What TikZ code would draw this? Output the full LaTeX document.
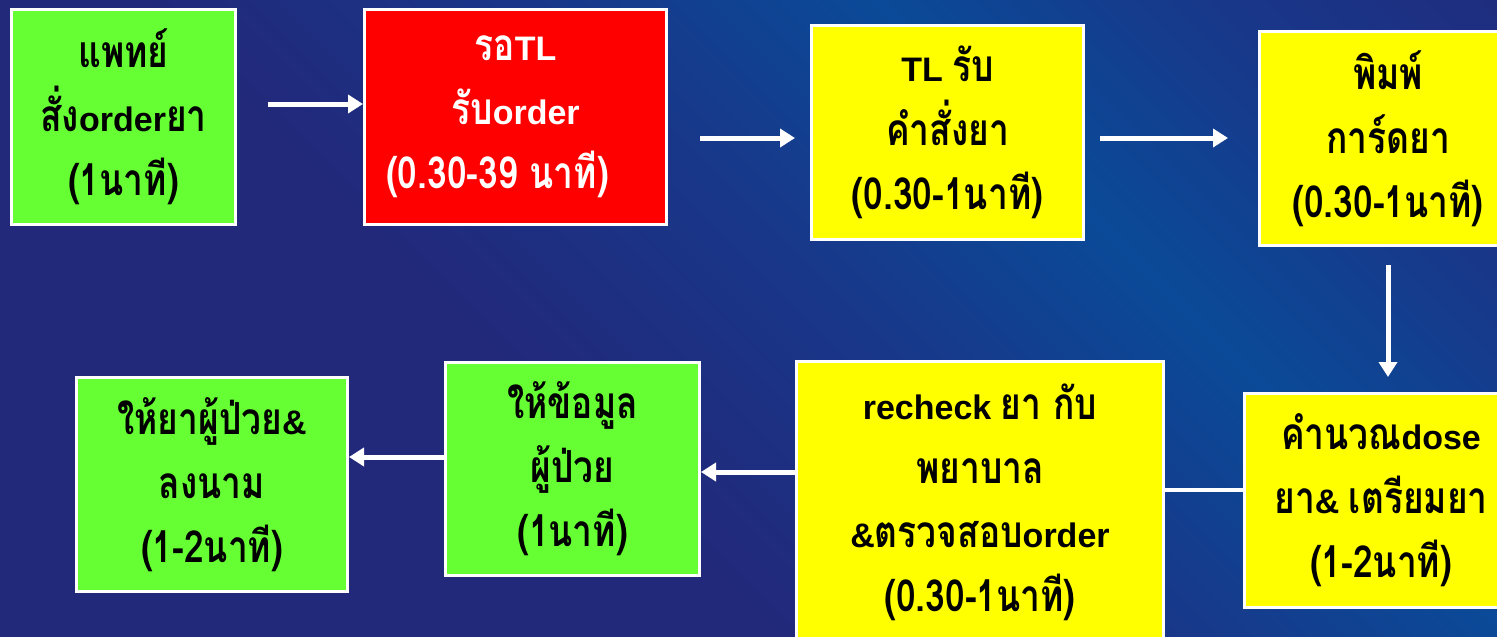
\documentclass[tikz,border=0pt]{standalone}
\usepackage{fontspec}
\setmainfont{Liberation Sans}
\newfontfamily\thai[Script=Thai,FakeStretch=0.8,Scale=1.3]{Loma}
\usetikzlibrary{arrows.meta}
\definecolor{bgdark}{RGB}{34,40,122}
\definecolor{bgmid}{RGB}{24,56,138}
\definecolor{bglight}{RGB}{10,74,152}
\definecolor{boxgreen}{RGB}{102,255,51}
\definecolor{boxyellow}{RGB}{255,255,0}
\definecolor{boxred}{RGB}{255,0,0}
\pgfdeclarehorizontalshading{bgband}{100bp}{color(0bp)=(bgdark); color(38bp)=(bgdark); color(46bp)=(bgmid); color(52bp)=(bglight); color(58bp)=(bgmid); color(66bp)=(bgdark); color(100bp)=(bgdark)}
\newcommand\thx[1]{{\thai #1}}
\begin{document}
\begin{tikzpicture}[x=1pt,y=-1pt,
  box/.style={draw=white, line width=3pt, inner sep=0pt, align=center,
    font=\bfseries\fontsize{34}{64}\selectfont, text=black},
  arr/.style={draw=white, line width=5pt, -{Triangle[length=15pt,width=18pt]}},
  link/.style={draw=white, line width=4pt}]
\useasboundingbox (0,0) rectangle (1497,637);
\begin{scope}
\clip (0,0) rectangle (1497,637);
\shade[shading=bgband, shading angle=45] (-100,-370) rectangle (2300,1030);
\end{scope}
% top row
\node[box, fill=boxgreen, minimum width=224pt, minimum height=215pt] (g1) at (123.5,117)
  {\thx{แพทย์}\\\thx{สั่ง}order\thx{ยา}\\\thx{(1นาที)}};
\node[box, fill=boxred, text=white, minimum width=302pt, minimum height=215pt] (r1) at (515.5,117)
  {\thx{รอ}TL\\\thx{รับ}order\\\thx{(0.30-39 นาที)}\kern36pt};
\node[box, fill=boxyellow, minimum width=272pt, minimum height=214pt] (y1) at (947.5,132.5)
  {TL \thx{รับ}\\\thx{คำสั่งยา}\\\thx{(0.30-1นาที)}};
\node[box, fill=boxyellow, minimum width=257pt, minimum height=214pt] (y2) at (1388,138.5)
  {\thx{พิมพ์}\\\thx{การ์ดยา}\\\thx{(0.30-1นาที)}};
% bottom row
\node[box, fill=boxyellow, minimum width=273pt, minimum height=214pt] (y3) at (1381,500.5)
  {\thx{คำนวณ}dose\\\thx{ยา}\& \thx{เตรียมยา}\\\thx{(1-2นาที)}};
\node[box, fill=boxyellow, minimum width=367pt, minimum height=281pt] (rc) at (980,502)
  {recheck \thx{ยา กับ}\\\thx{พยาบาล}\\\&\thx{ตรวจสอบ}order\\\thx{(0.30-1นาที)}};
\node[box, fill=boxgreen, minimum width=254pt, minimum height=213pt] (g2) at (572.5,469)
  {\thx{ให้ข้อมูล}\\\thx{ผู้ป่วย}\\\thx{(1นาที)}};
\node[box, fill=boxgreen, minimum width=271pt, minimum height=214pt] (g3) at (212,484.5)
  {\thx{ให้ยาผู้ป่วย}\&\\\thx{ลงนาม}\\\thx{(1-2นาที)}};
% connectors
\draw[arr] ([xshift=31pt]g1.east |- 0,104) -- (r1.west |- 0,104);
\draw[arr] ([xshift=32pt]r1.east |- 0,138) -- ([xshift=-15pt]y1.west |- 0,138);
\draw[arr] ([xshift=15pt]y1.east |- 0,138) -- ([xshift=-30pt]y2.west |- 0,138);
\draw[arr] ([yshift=-18pt]y2.south) -- ([yshift=15pt]y3.north -| y2.south);
\draw[link] (y3.west |- 0,490) -- (rc.east |- 0,490);
\draw[arr] (rc.west |- 0,472) -- (g2.east |- 0,472);
\draw[arr] (g2.west |- 0,457) -- (g3.east |- 0,457);
\end{tikzpicture}
\end{document}
